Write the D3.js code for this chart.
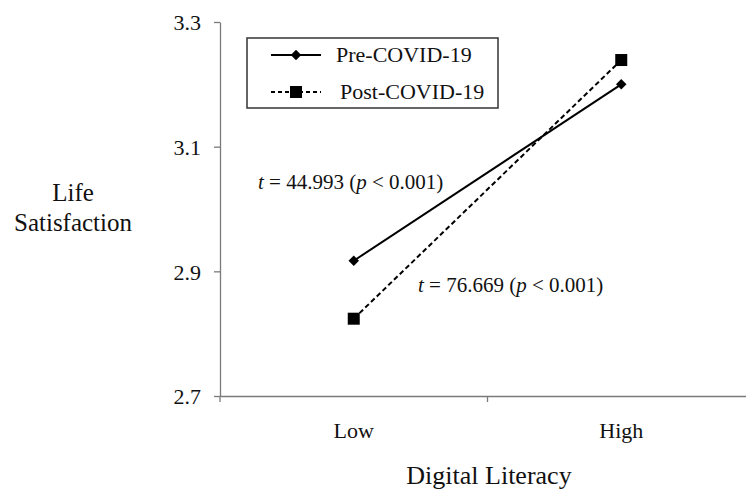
<!DOCTYPE html>
<html>
<head>
<meta charset="utf-8">
<script src="https://cdn.jsdelivr.net/npm/d3@7/dist/d3.min.js"></script>
<style>
  body { margin: 0; background: #fff; }
  svg { display: block; }
  text { font-family: "Liberation Serif", "DejaVu Serif", serif; }
</style>
</head>
<body>
<svg id="chart" width="746" height="492"></svg>
<script>
const categories = ["Low", "High"];
const yTicks = [2.7, 2.9, 3.1, 3.3];
const seriesNames = ["Pre-COVID-19", "Post-COVID-19"];
const preValues = [2.917, 3.200];
const postValues = [2.824, 3.239];
const annotations = [
  { t: "44.993", p: "0.001" },
  { t: "76.669", p: "0.001" }
];

const FONT = "Liberation Serif";
const svg = d3.select("#chart");
const x = d3.scaleBand().domain(categories).range([220, 755]);
const y = d3.scaleLinear().domain([2.7, 3.3]).range([396, 22]);
const axisColor = "#7a7a7a";

// Y axis
const yAxis = svg.append("g").attr("transform", "translate(220,0)")
  .call(d3.axisLeft(y).tickValues(yTicks).tickFormat(d3.format(".1f")).tickSize(6).tickSizeOuter(0));
yAxis.attr("font-family", FONT);
yAxis.select(".domain").attr("stroke", axisColor).attr("stroke-width", 1.3);
yAxis.selectAll(".tick line").attr("stroke", axisColor).attr("stroke-width", 1.3);
yAxis.selectAll(".tick text").attr("font-size", 22).attr("fill", "#111").attr("x", -19)
  .attr("font-family", FONT).attr("dy", "0.35em");

// X axis
const xAxis = svg.append("g").attr("transform", "translate(0,396)")
  .call(d3.axisBottom(x).tickSize(0).tickSizeOuter(0).tickPadding(26));
xAxis.attr("font-family", FONT);
xAxis.select(".domain").attr("stroke", axisColor).attr("stroke-width", 1.3);
xAxis.selectAll(".tick text").attr("font-size", 22).attr("fill", "#111")
  .attr("font-family", FONT);
// boundary ticks between categories
const boundaries = [x.range()[0], x("High")];
xAxis.selectAll(".bnd").data(boundaries).enter().append("line")
  .attr("x1", d => d).attr("x2", d => d).attr("y1", 0).attr("y2", 6)
  .attr("stroke", axisColor).attr("stroke-width", 1.3);

const cx = d => x(d) + x.bandwidth() / 2;

const line = d3.line().x(d => cx(d.c)).y(d => y(d.v));
const preData = categories.map((c, i) => ({ c, v: preValues[i] }));
const postData = categories.map((c, i) => ({ c, v: postValues[i] }));

svg.append("path").datum(preData).attr("d", line)
  .attr("fill", "none").attr("stroke", "#000").attr("stroke-width", 2);
svg.append("path").datum(postData).attr("d", line)
  .attr("fill", "none").attr("stroke", "#000").attr("stroke-width", 2)
  .attr("stroke-dasharray", "5,3");

const diamond = d3.symbol().type(d3.symbolDiamond2).size(70);
svg.selectAll(".pre").data(preData).enter().append("path")
  .attr("transform", d => `translate(${cx(d.c)},${y(d.v)})`)
  .attr("d", diamond).attr("fill", "#000");
svg.selectAll(".post").data(postData).enter().append("rect")
  .attr("x", d => cx(d.c) - 6).attr("y", d => y(d.v) - 6)
  .attr("width", 12).attr("height", 12).attr("fill", "#000");

// Legend
const lg = svg.append("g").attr("font-family", FONT);
lg.append("rect").attr("x", 247).attr("y", 38).attr("width", 251).attr("height", 70)
  .attr("fill", "#fff").attr("stroke", "#333").attr("stroke-width", 1.5);
lg.append("line").attr("x1", 271).attr("x2", 321).attr("y1", 55).attr("y2", 55)
  .attr("stroke", "#000").attr("stroke-width", 2);
lg.append("path").attr("transform", "translate(296,55)").attr("d", diamond).attr("fill", "#000");
lg.append("text").attr("x", 336).attr("y", 62).attr("font-size", 22).attr("fill", "#111")
  .attr("font-family", FONT).text(seriesNames[0]);
lg.append("line").attr("x1", 271).attr("x2", 321).attr("y1", 92).attr("y2", 92)
  .attr("stroke", "#000").attr("stroke-width", 2).attr("stroke-dasharray", "4,3");
lg.append("rect").attr("x", 290).attr("y", 86).attr("width", 12).attr("height", 12).attr("fill", "#000");
lg.append("text").attr("x", 340).attr("y", 99).attr("font-size", 22).attr("fill", "#111")
  .attr("font-family", FONT).text(seriesNames[1]);

// Annotations
function annot(xp, yp, a) {
  const t = svg.append("text").attr("x", xp).attr("y", yp).attr("font-size", 21)
    .attr("font-family", FONT).attr("fill", "#111");
  t.append("tspan").attr("font-style", "italic").text("t");
  t.append("tspan").text(` = ${a.t} (`);
  t.append("tspan").attr("font-style", "italic").text("p");
  t.append("tspan").text(` < ${a.p})`);
}
annot(258, 189, annotations[0]);
annot(418, 292, annotations[1]);

// Axis titles
svg.append("text").attr("x", 73).attr("y", 201).attr("text-anchor", "middle")
  .attr("font-family", FONT).attr("font-size", 25).attr("fill", "#111").text("Life");
svg.append("text").attr("x", 73).attr("y", 231).attr("text-anchor", "middle")
  .attr("font-family", FONT).attr("font-size", 25).attr("fill", "#111").text("Satisfaction");
svg.append("text").attr("x", 489).attr("y", 484).attr("text-anchor", "middle")
  .attr("font-family", FONT).attr("font-size", 26).attr("fill", "#111").text("Digital Literacy");
</script>
</body>
</html>
